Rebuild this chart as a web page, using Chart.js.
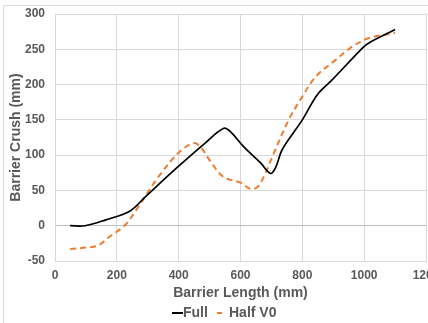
<!DOCTYPE html>
<html>
<head>
<meta charset="utf-8">
<script src="https://cdn.jsdelivr.net/npm/chart.js@4.4.0/dist/chart.umd.min.js"></script>
<style>
  html, body { margin: 0; padding: 0; background: #ffffff; }
  #wrap { position: relative; width: 428px; height: 323px; overflow: hidden; background: #fff; }
  #frame { position: absolute; left: 3px; top: 5px; width: 440px; height: 330px;
           border-left: 1px solid #d9d9d9; border-top: 1px solid #d9d9d9; box-sizing: border-box; }
  #c { position: absolute; left: 0; top: 0; }
</style>
</head>
<body>
<div id="wrap">
  <div id="frame"></div>
  <canvas id="c" width="445" height="323"></canvas>
</div>
<script>
// ---- data ----
const seriesNames = ["Full", "Half V0"];
const fullX = [49, 97, 162, 243, 292, 399, 480, 546, 568, 610, 665, 697, 714, 735, 800, 849, 897, 995, 1015, 1100];
const fullY = [0, 0, 8, 21, 41, 84, 115, 138, 133, 112, 89, 74, 83, 108, 150, 186, 207, 252, 259, 278];
const halfX = [49, 100, 140, 172, 227, 270, 334, 399, 448, 470, 503, 545, 600, 633, 655, 675, 708, 756, 800, 843, 908, 962, 1016, 1100];
const halfY = [-33, -31, -28, -17, 1, 27, 69, 103, 117, 112, 91, 69, 61, 52, 55, 69, 103, 150, 183, 211, 235, 254, 266, 273];
const xTicks = [0, 200, 400, 600, 800, 1000, 1200];
const yTicks = [-50, 0, 50, 100, 150, 200, 250, 300];
const xTitle = "Barrier Length (mm)";
const yTitle = "Barrier Crush (mm)";

const FONT = '"Liberation Sans", Arial, Helvetica, sans-serif';
const GREY = '#595959';
const ORANGE = '#ED7D31';

const toPts = (xs, ys) => xs.map((x, i) => ({x: x, y: ys[i]}));

const legendPlugin = {
  id: 'excelLegend',
  afterDraw(chart) {
    const ctx = chart.ctx;
    ctx.save();
    ctx.font = 'bold 14px ' + FONT;
    ctx.fillStyle = GREY;
    ctx.textBaseline = 'middle';
    const y = 313;
    ctx.strokeStyle = '#000000';
    ctx.lineWidth = 2;
    ctx.setLineDash([]);
    ctx.beginPath(); ctx.moveTo(172, y); ctx.lineTo(183, y); ctx.stroke();
    ctx.fillText(seriesNames[0], 183, y);
    ctx.strokeStyle = ORANGE;
    ctx.beginPath(); ctx.moveTo(217, y); ctx.lineTo(222, y); ctx.stroke();
    ctx.fillText(seriesNames[1], 229, y);
    ctx.restore();
  }
};

new Chart(document.getElementById('c'), {
  type: 'scatter',
  data: {
    datasets: [
      {
        label: seriesNames[0],
        data: toPts(fullX, fullY),
        showLine: true,
        borderColor: '#000000',
        borderWidth: 1.7,
        pointRadius: 0,
        tension: 0.35,
        fill: false
      },
      {
        label: seriesNames[1],
        data: toPts(halfX, halfY),
        showLine: true,
        borderColor: ORANGE,
        borderWidth: 2,
        borderDash: [6, 4],
        pointRadius: 0,
        tension: 0.35,
        fill: false
      }
    ]
  },
  options: {
    responsive: false,
    devicePixelRatio: 1,
    animation: false,
    layout: { padding: { left: 8, top: 14, right: 19, bottom: 21 } },
    plugins: {
      legend: { display: false },
      tooltip: { enabled: false }
    },
    scales: {
      x: {
        type: 'linear',
        min: xTicks[0],
        max: xTicks[xTicks.length - 1],
        afterBuildTicks: (s) => { s.ticks = xTicks.map(v => ({value: v})); },
        afterFit: (s) => { s.height = 41; s.paddingLeft = 0; s.paddingRight = 0; },
        ticks: { color: GREY, font: { family: FONT, size: 12, weight: 'bold' }, padding: 7, maxRotation: 0,
                 callback: (v) => String(v) },
        grid: { color: '#d9d9d9', lineWidth: 1, drawTicks: false },
        border: { color: '#d9d9d9' },
        title: { display: true, text: xTitle, color: GREY, font: { family: FONT, size: 14, weight: 'bold' }, padding: { top: 0, bottom: 0 } }
      },
      y: {
        type: 'linear',
        min: yTicks[0],
        max: yTicks[yTicks.length - 1],
        afterBuildTicks: (s) => { s.ticks = yTicks.map(v => ({value: v})); },
        afterFit: (s) => { s.width = 47; s.paddingTop = 0; s.paddingBottom = 0; },
        ticks: { color: GREY, font: { family: FONT, size: 12, weight: 'bold' }, padding: 10,
                 callback: (v) => String(v) },
        grid: {
          color: (c) => (c.tick && c.tick.value === 0) ? '#bfbfbf' : '#d9d9d9',
          lineWidth: 1,
          drawTicks: false
        },
        border: { color: '#d9d9d9' },
        title: { display: true, text: yTitle, color: GREY, font: { family: FONT, size: 14, weight: 'bold' }, padding: { top: 0, bottom: 0 } }
      }
    }
  },
  plugins: [legendPlugin]
});
</script>
</body>
</html>
